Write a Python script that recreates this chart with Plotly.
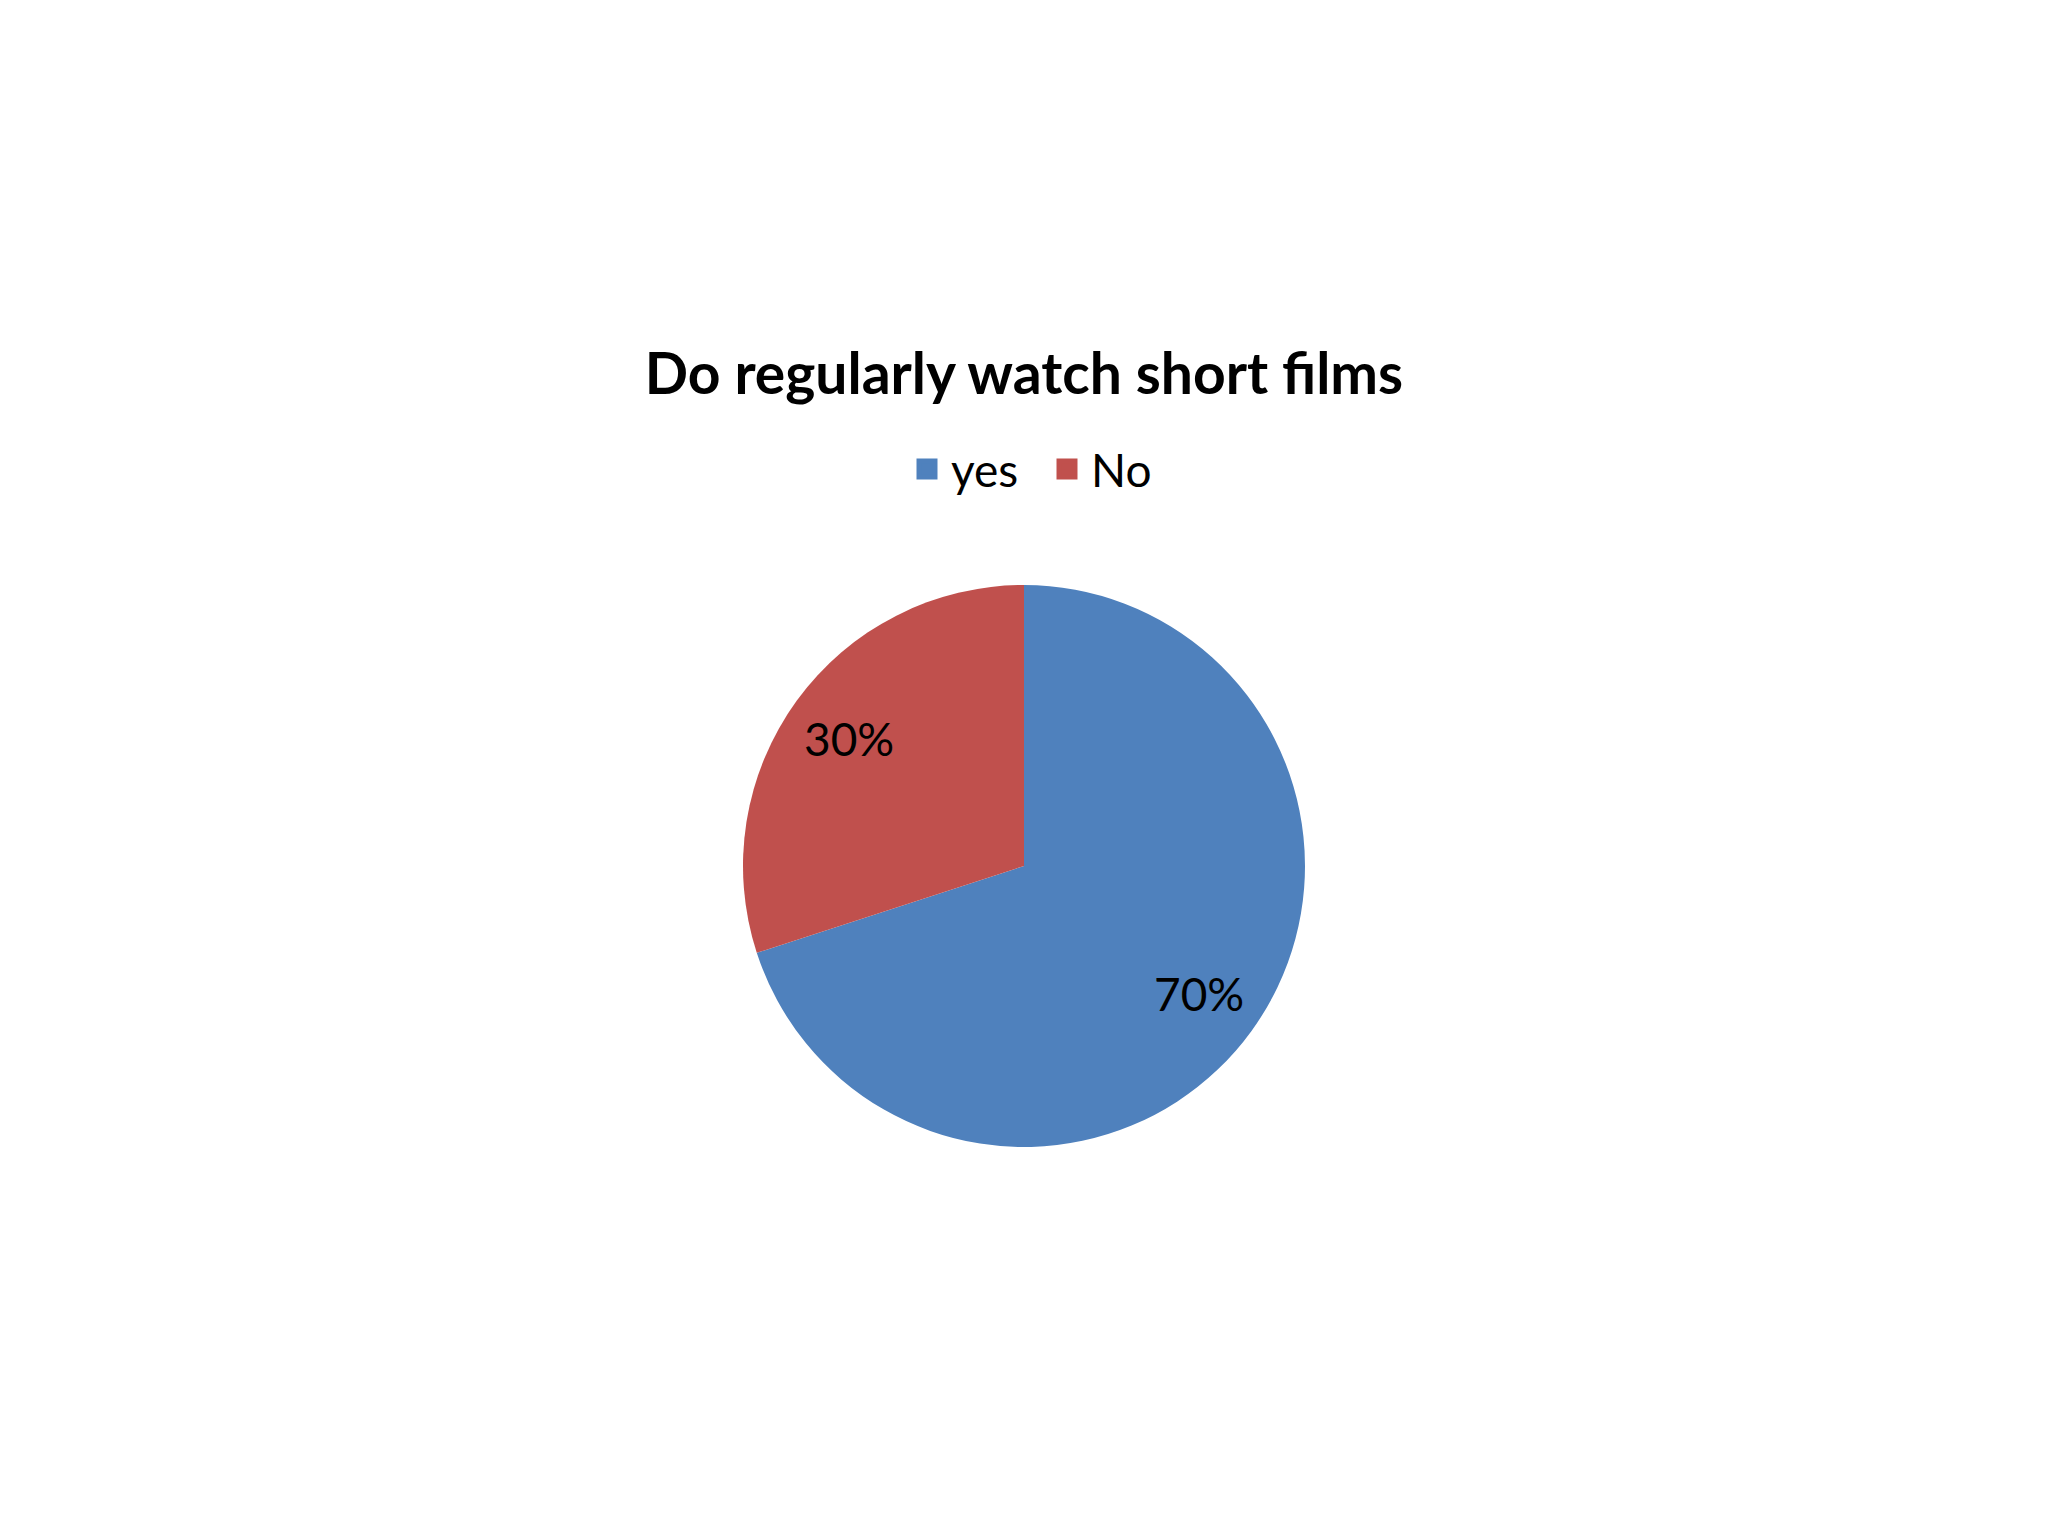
import math
import plotly.graph_objects as go

# Survey answers, shares in percent
answers = ["yes", "No"]
shares = [70, 30]
colors = ["#4F81BD", "#C0504D"]

title = "Do regularly watch short films"

W, H = 2048, 1536
# pie centre / radius in pixels (page has an 8px body margin)
cx, cy, r = 1016, 858, 281
label_r = 0.77  # labels sit at 77% of the radius, like Excel

fig = go.Figure()
fig.add_trace(go.Pie(
    labels=answers, values=shares, sort=False, direction="clockwise",
    marker=dict(colors=colors), textinfo="none", showlegend=False,
    hoverinfo="label+percent",
    domain=dict(x=[(cx - r) / W, (cx + r) / W],
                y=[1 - (cy + r) / H, 1 - (cy - r) / H]),
))

# legend entries with bigger square swatches
for name, col in zip(answers, colors):
    fig.add_trace(go.Scatter(
        x=[None], y=[None], mode="markers", name=name,
        marker=dict(symbol="square", size=16, color=col,
                    line=dict(width=5, color=col)),
    ))

# percentage labels at the middle angle of each slice
total = sum(shares)
start = 0
for v in shares:
    mid = (start + v / 2) / total * 2 * math.pi
    start += v
    fig.add_annotation(
        x=(cx + label_r * r * math.sin(mid)) / W,
        y=1 - (cy - label_r * r * math.cos(mid)) / H,
        xref="paper", yref="paper", showarrow=False,
        text=f"{v / total:.0%}",
        font=dict(family="Lato", size=46, color="black"),
    )

fig.update_layout(
    width=W, height=H, margin=dict(l=0, r=0, t=0, b=0),
    paper_bgcolor="white", plot_bgcolor="white",
    font=dict(family="Lato", color="black"),
    xaxis=dict(visible=False), yaxis=dict(visible=False),
    title=dict(text=f"<b>{title}</b>", x=cx / W, xanchor="center",
               y=1 - 366 / H, yanchor="middle",
               font=dict(family="Lato", size=57, color="black")),
    legend=dict(orientation="h", x=1035 / W, xanchor="center",
                y=1 - 461 / H, yanchor="middle",
                font=dict(family="Lato", size=46, color="black"),
                itemwidth=38, tracegroupgap=0,
                entrywidth=87, entrywidthmode="pixels"),
)

fig.write_html("out.html")
